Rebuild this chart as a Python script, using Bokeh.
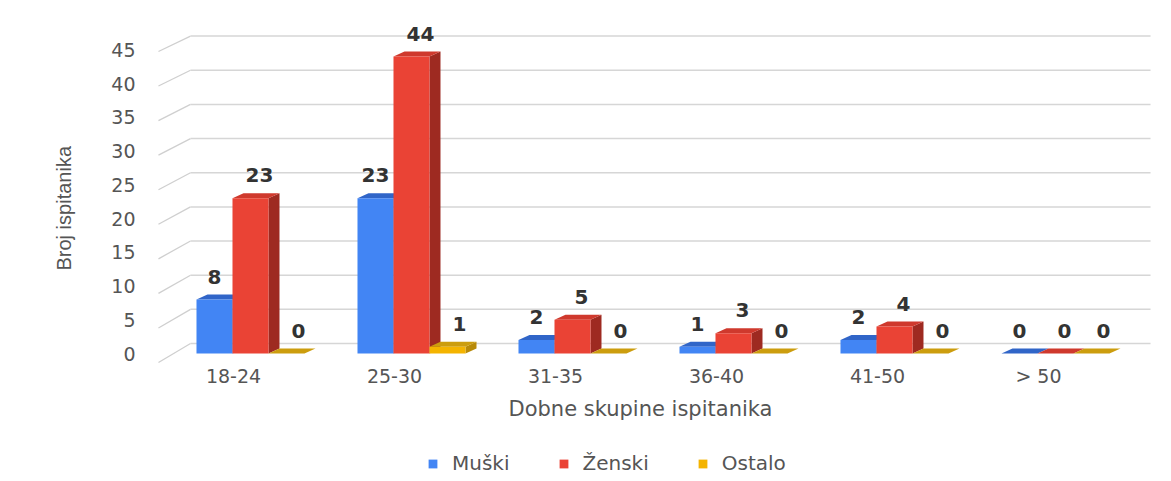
from bokeh.plotting import figure
from bokeh.layouts import column
from bokeh.models import ColumnDataSource, Legend, LegendItem, FixedTicker, Range1d, Title
from bokeh.embed import file_html
from bokeh.resources import INLINE
from bokeh.core.properties import value

# ---- data ----
categories = ["18-24", "25-30", "31-35", "36-40", "41-50", "> 50"]
series_names = ["Muški", "Ženski", "Ostalo"]
muski = [8, 23, 2, 1, 2, 0]
zenski = [23, 44, 5, 3, 4, 0]
ostalo = [0, 1, 0, 0, 0, 0]
y_ticks = [0, 5, 10, 15, 20, 25, 30, 35, 40, 45]
x_title = "Dobne skupine ispitanika"
y_title = "Broj ispitanika"

series_values = [muski, zenski, ostalo]

# ---- styles ----
front_colors = ["#4285F4", "#EA4335", "#F4B400"]
top_colors = ["#3065c8", "#cf392d", "#cc9d0e"]
side_colors = ["#2b57ad", "#9e2a21", "#b88a08"]
label_dx_px = [0, 9, 12]

PX_X = 161.0   # pixels per category
PX_Y = 6.75    # pixels per unit
W = 36.0 / PX_X
G0 = -37.0 / PX_X
DX = 11.0 / PX_X
DY = 5.0 / PX_Y

FONT = "DejaVu Sans"
GRAY = "#555555"
WIDTH = 1168

p = figure(width=WIDTH, height=430, output_backend="svg", toolbar_location=None,
           x_range=Range1d(-0.472, 5.733), y_range=Range1d(-1.48, 49.63),
           min_border_left=157, min_border_right=12, min_border_top=18, min_border_bottom=67)
p.outline_line_color = None
p.xgrid.visible = False
p.ygrid.visible = False
p.background_fill_color = "white"
p.border_fill_color = "white"

# ---- pseudo-3D gridlines (back wall slightly expanded for perspective) ----
gx0 = -0.466
gx1 = -0.267
gx2 = 5.696
grid_src = ColumnDataSource(dict(
    x0=[gx0] * len(y_ticks), y0=[t * 1.024 - 9.0 / PX_Y for t in y_ticks],
    x1=[gx1] * len(y_ticks), y1=[t * 1.012 + 10.0 / PX_Y for t in y_ticks],
    x2=[gx2] * len(y_ticks)))
p.segment(x0="x0", y0="y0", x1="x1", y1="y1", source=grid_src, line_color="#cfcfcf", line_width=1.3)
p.segment(x0="x1", y0="y1", x1="x2", y1="y1", source=grid_src, line_color="#d6d6d6", line_width=1.5)

# ---- bars ----
for s, vals in enumerate(series_values):
    side_xs, side_ys, top_xs, top_ys, fx, ftop = [], [], [], [], [], []
    for i, v in enumerate(vals):
        xl = i + G0 + s * W
        xr = xl + W
        side_xs.append([xr, xr, xr + DX, xr + DX])
        side_ys.append([0, v, v + DY, DY])
        top_xs.append([xl, xr, xr + DX, xl + DX])
        top_ys.append([v, v, v + DY, v + DY])
        fx.append(xl + W / 2)
        ftop.append(v)
    p.patches(xs=side_xs, ys=side_ys, fill_color=side_colors[s], line_color=None)
    p.patches(xs=top_xs, ys=top_ys, fill_color=top_colors[s], line_color=None)
    p.vbar(x=fx, top=ftop, bottom=0, width=W, fill_color=front_colors[s], line_color=None)
    p.text(x=fx, y=ftop, text=[str(v) for v in vals], x_offset=label_dx_px[s], y_offset=-23,
           text_align="center", text_baseline="alphabetic",
           text_font=value(FONT), text_font_style="bold", text_font_size="20px", text_color="#333333")

# ---- axes ----
p.yaxis.ticker = FixedTicker(ticks=y_ticks)
p.yaxis.axis_line_color = None
p.yaxis.major_tick_line_color = None
p.yaxis.minor_tick_line_color = None
p.yaxis.major_tick_out = 0
p.yaxis.major_tick_in = 0
p.yaxis.minor_tick_out = 0
p.yaxis.major_label_standoff = 22
p.yaxis.major_label_text_font = FONT
p.yaxis.major_label_text_font_size = "19px"
p.yaxis.major_label_text_color = GRAY

p.xaxis.ticker = FixedTicker(ticks=list(range(len(categories))))
p.xaxis.major_label_overrides = {i: c for i, c in enumerate(categories)}
p.xaxis.axis_line_color = None
p.xaxis.major_tick_line_color = None
p.xaxis.minor_tick_line_color = None
p.xaxis.major_tick_out = 0
p.xaxis.major_tick_in = 0
p.xaxis.minor_tick_out = 0
p.xaxis.major_label_standoff = 1
p.xaxis.major_label_text_font = FONT
p.xaxis.major_label_text_font_size = "19px"
p.xaxis.major_label_text_color = GRAY

# ---- titles ----
p.add_layout(Title(text=y_title, align="left", offset=93, standoff=67,
                   text_font="Liberation Sans", text_font_size="20px",
                   text_font_style="normal", text_color=GRAY), "left")
p.add_layout(Title(text=x_title, align="left", offset=351, standoff=10,
                   text_font=FONT, text_font_size="21px",
                   text_font_style="normal", text_color=GRAY), "below")

# ---- legend (separate strip below the chart) ----
q = figure(width=WIDTH, height=48, output_backend="svg", toolbar_location=None,
           x_range=Range1d(0, 1), y_range=Range1d(0, 1),
           min_border_left=0, min_border_right=0, min_border_top=0, min_border_bottom=0)
q.axis.visible = False
q.grid.visible = False
q.outline_line_color = None
q.background_fill_color = "white"
q.border_fill_color = "white"
items = []
for s in range(len(series_names)):
    r = q.vbar(x=[0.5], top=[0], bottom=0, width=0.001, fill_color=front_colors[s], line_color=None)
    items.append(LegendItem(label=series_names[s], renderers=[r]))
legend = Legend(items=items, orientation="horizontal", location=(270, 3),
                glyph_width=11, glyph_height=11, label_standoff=14, spacing=48,
                padding=0, margin=0, border_line_color=None, background_fill_alpha=0,
                label_text_font=FONT, label_text_font_size="20px", label_text_color=GRAY)
q.add_layout(legend, "center")

open("out.html", "w").write(file_html(column(p, q, spacing=0), INLINE))
